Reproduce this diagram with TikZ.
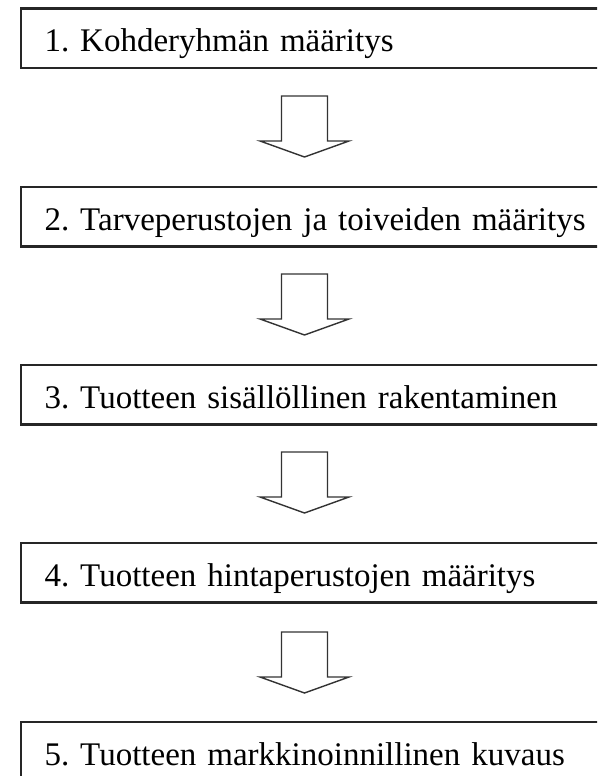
\documentclass[tikz,border=0pt]{standalone}
\usepackage{fontspec}
\setmainfont{Liberation Serif}
\usepackage{tikz}
\frenchspacing

\tikzset{
    stage/.style={draw=black!85,line width=2.2pt,anchor=north west,
        inner xsep=23.5pt,inner ysep=0pt,outer sep=0pt,
        text height=43.5pt,text depth=16pt,text width=560pt,align=left,
        font=\fontsize{33}{36}\selectfont},
    hollowarrow/.style={draw=black!80,line width=1.4pt,line join=miter,fill=white}
}

\begin{document}
\begin{tikzpicture}[x=1pt,y=-1pt]
    % Page in pixel units, y running downwards; boxes run off the right edge.
    \useasboundingbox[fill=white] (0,0) rectangle (597,776);
    \clip (0,0) rectangle (597,776);

    \node[stage] (stage1) at (21,8.5) {1. Kohderyhmän määritys};
    \node[stage] (stage2) at (21,187) {2. Tarveperustojen ja toiveiden määritys};
    \node[stage] (stage3) at (21,365) {3. Tuotteen sisällöllinen rakentaminen};
    \node[stage] (stage4) at (21,543) {4. Tuotteen hintaperustojen määritys};
    \node[stage] (stage5) at (21,722) {5. Tuotteen markkinoinnillinen kuvaus};

    % Open block arrows between the stages, tops given by name.
    \coordinate (arrow1) at (304.5,96);
    \coordinate (arrow2) at (304.5,274);
    \coordinate (arrow3) at (304.5,452);
    \coordinate (arrow4) at (304.5,632);
    \draw[hollowarrow] (arrow1) +(-23,0) -- +(-23,45) -- +(-44.5,45) -- +(0,61)
        -- +(44.5,45) -- +(23,45) -- +(23,0) -- cycle;
    \draw[hollowarrow] (arrow2) +(-23,0) -- +(-23,45) -- +(-44.5,45) -- +(0,61)
        -- +(44.5,45) -- +(23,45) -- +(23,0) -- cycle;
    \draw[hollowarrow] (arrow3) +(-23,0) -- +(-23,45) -- +(-44.5,45) -- +(0,61)
        -- +(44.5,45) -- +(23,45) -- +(23,0) -- cycle;
    \draw[hollowarrow] (arrow4) +(-23,0) -- +(-23,45) -- +(-44.5,45) -- +(0,61)
        -- +(44.5,45) -- +(23,45) -- +(23,0) -- cycle;
\end{tikzpicture}
\end{document}
